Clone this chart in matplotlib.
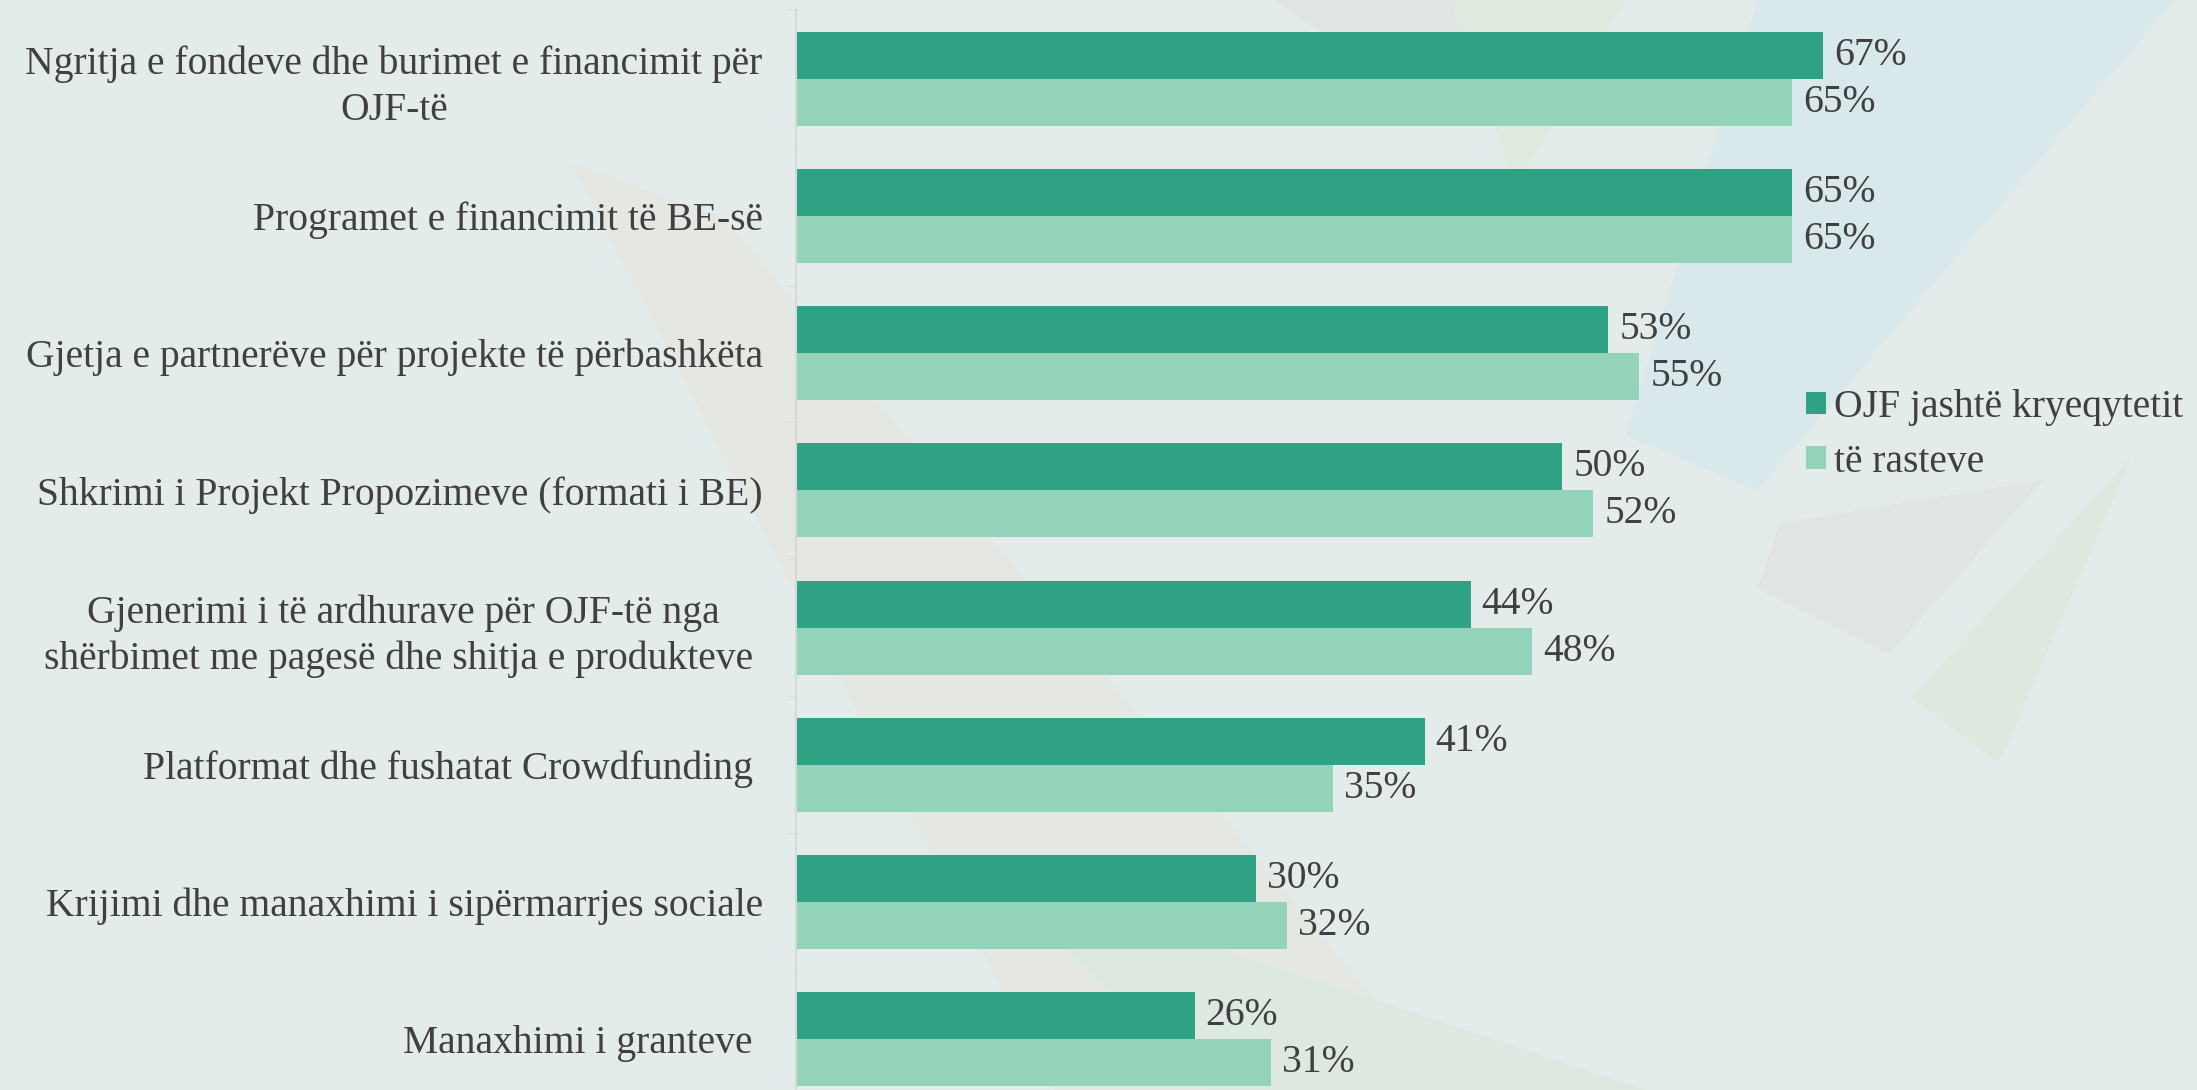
import numpy as np
import matplotlib.pyplot as plt
from matplotlib.patches import Polygon

# data
categories = [
    "Ngritja e fondeve dhe burimet e financimit për\nOJF-të",
    "Programet e financimit të BE-së",
    "Gjetja e partnerëve për projekte të përbashkëta",
    "Shkrimi i Projekt Propozimeve (formati i BE)",
    "Gjenerimi i të ardhurave për OJF-të nga\nshërbimet me pagesë dhe shitja e produkteve ",
    "Platformat dhe fushatat Crowdfunding ",
    "Krijimi dhe manaxhimi i sipërmarrjes sociale",
    "Manaxhimi i granteve ",
]
ojf_jashte = [67, 65, 53, 50, 44, 41, 30, 26]
te_rasteve = [65, 65, 55, 52, 48, 35, 32, 31]
series_names = ["OJF jashtë kryeqytetit", "të rasteve"]

dark = "#2fa283"
light = "#92d3ba"
bg = "#e4eceb"
txt = "#404040"
fs = 28.5

plt.rcParams['font.family'] = ['Liberation Serif', 'DejaVu Serif']

fig = plt.figure(figsize=(21.97, 10.90), dpi=100)
fig.patch.set_facecolor(bg)

# faint background shapes, on their own axes behind the chart
bgax = fig.add_axes([0, 0, 1, 1], zorder=-10)
bgax.set_xlim(0, 1)
bgax.set_ylim(0, 1)
bgax.set_axis_off()
shapes = [
    ([(0.80, 1.0), (0.99, 1.0), (0.80, 0.55), (0.74, 0.60)], "#d9e8ea"),
    ([(0.58, 1.0), (0.70, 1.0), (0.63, 0.93)], "#e0e4e3"),
    ([(0.81, 0.52), (0.93, 0.56), (0.86, 0.40), (0.80, 0.46)], "#e0e5e4"),
    ([(0.87, 0.36), (0.97, 0.58), (0.91, 0.30)], "#dde9de"),
    ([(0.66, 1.0), (0.74, 1.0), (0.69, 0.83)], "#e0e9de"),
    ([(0.26, 0.85), (0.33, 0.80), (0.66, 0.0), (0.48, 0.0)], "#e5e8e2"),
    ([(0.45, 0.20), (0.75, 0.0), (0.55, 0.0)], "#dde9e0"),
]
for pts, col in shapes:
    bgax.add_patch(Polygon(pts, closed=True, facecolor=col, edgecolor='none'))

ax = fig.add_axes([0.3623, -0.0165, 0.628, 1.0073])
ax.set_facecolor('none')

y = np.arange(len(categories))
h = 0.342
b1 = ax.barh(y - h / 2, ojf_jashte, height=h, color=dark, label=series_names[0])
b2 = ax.barh(y + h / 2, te_rasteve, height=h, color=light, label=series_names[1])

ax.bar_label(b1, fmt='{:.0f}%', padding=8, fontsize=fs, color=txt)
ax.bar_label(b2, fmt='{:.0f}%', padding=8, fontsize=fs, color=txt)

ax.set_xlim(0, 90)
ax.set_ylim(len(categories) - 0.5, -0.5)
ax.set_yticks(y)
ax.set_yticklabels(categories, fontsize=fs, color=txt, multialignment='center',
                   linespacing=1.3)
ax.set_yticks(np.arange(len(categories) + 1) - 0.5, minor=True)
ax.tick_params(axis='y', which='major', length=0, pad=24)
ax.tick_params(axis='y', which='minor', length=6, color='#d5d9d8')
ax.set_xticks([])

for s in ['top', 'right', 'bottom']:
    ax.spines[s].set_visible(False)
ax.spines['left'].set_color('#d5d9d8')
ax.spines['left'].set_linewidth(1.5)

fig.legend(handles=[b1, b2], labels=series_names, loc='center left',
           bbox_to_anchor=(0.822, 0.601), frameon=False, fontsize=fs,
           handlelength=0.5, handleheight=0.5, handletextpad=0.2,
           labelspacing=0.45, borderpad=0, borderaxespad=0, labelcolor=txt)

fig.savefig("out.png", dpi=100, facecolor=fig.get_facecolor())
